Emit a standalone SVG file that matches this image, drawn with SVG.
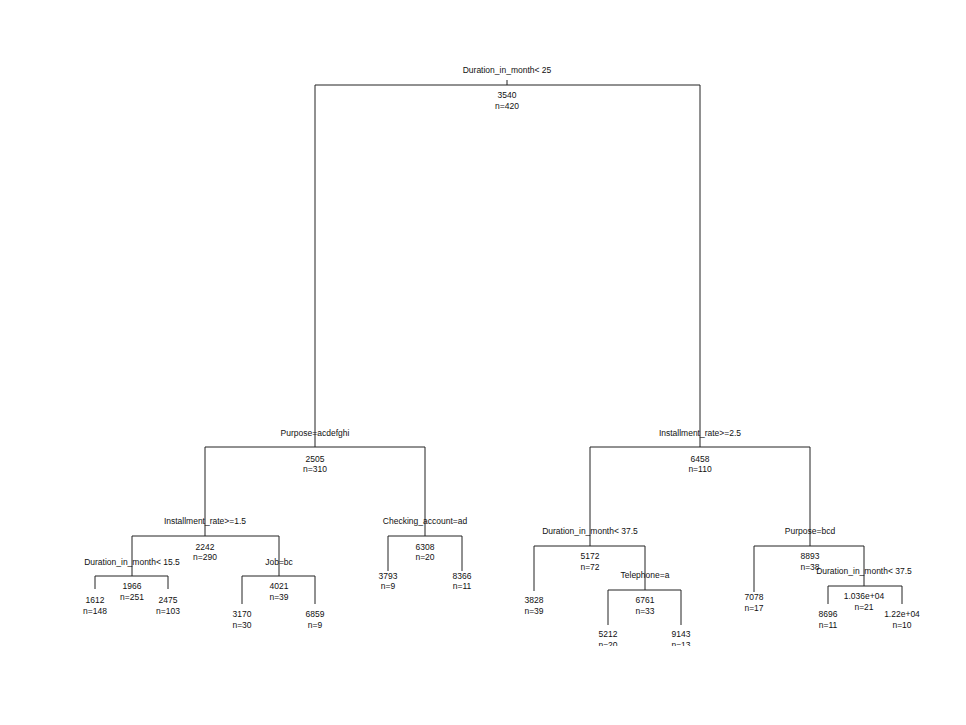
<svg xmlns="http://www.w3.org/2000/svg" width="966" height="725" viewBox="0 0 966 725">
<defs>
<style>
.e{fill:none;stroke:#222;stroke-width:1}
text{font-family:"Liberation Sans",Arial,sans-serif;font-size:8.5px;fill:#111;text-anchor:middle}
</style>
<clipPath id="plot"><rect x="0" y="0" width="966" height="646"/></clipPath>
</defs>
<rect width="966" height="725" fill="#fff"/>
<g clip-path="url(#plot)">
<g id="connectors" class="e">
<path d="M507,80V85M315,447V85H700V447"/>
<path d="M205,536V447H425V536"/>
<path d="M590,546V447H810V546"/>
<path d="M132,576V536H279V576"/>
<path d="M95,589V576H168V589"/>
<path d="M242,604V576H315V604"/>
<path d="M388,571V536H462V571"/>
<path d="M534,591V546H645V590"/>
<path d="M608,625V590H681V625"/>
<path d="M754,592V546H864V586"/>
<path d="M828,604V586H902V604"/>
</g>
<g id="n1"><text x="507" y="73">Duration_in_month&lt; 25</text><text x="507" y="98">3540</text><text x="507" y="109">n=420</text></g>
<g id="n2"><text x="315" y="436">Purpose=acdefghi</text><text x="315" y="462">2505</text><text x="315" y="472">n=310</text></g>
<g id="n3"><text x="700" y="436">Installment_rate&gt;=2.5</text><text x="700" y="462">6458</text><text x="700" y="472">n=110</text></g>
<g id="n4"><text x="205" y="524">Installment_rate&gt;=1.5</text><text x="205" y="550">2242</text><text x="205" y="560">n=290</text></g>
<g id="n5"><text x="425" y="524">Checking_account=ad</text><text x="425" y="550">6308</text><text x="425" y="560">n=20</text></g>
<g id="n8"><text x="132" y="565">Duration_in_month&lt; 15.5</text><text x="132" y="589">1966</text><text x="132" y="600">n=251</text></g>
<g id="n9"><text x="279" y="565">Job=bc</text><text x="279" y="589">4021</text><text x="279" y="600">n=39</text></g>
<g id="n16"><text x="95" y="603">1612</text><text x="95" y="614">n=148</text></g>
<g id="n17"><text x="168" y="603">2475</text><text x="168" y="614">n=103</text></g>
<g id="n18"><text x="242" y="617">3170</text><text x="242" y="628">n=30</text></g>
<g id="n19"><text x="315" y="617">6859</text><text x="315" y="628">n=9</text></g>
<g id="n10"><text x="388" y="579">3793</text><text x="388" y="589">n=9</text></g>
<g id="n11"><text x="462" y="579">8366</text><text x="462" y="589">n=11</text></g>
<g id="n6"><text x="590" y="534">Duration_in_month&lt; 37.5</text><text x="590" y="559">5172</text><text x="590" y="570">n=72</text></g>
<g id="n7"><text x="810" y="534">Purpose=bcd</text><text x="810" y="559">8893</text><text x="810" y="570">n=38</text></g>
<g id="n12"><text x="534" y="603">3828</text><text x="534" y="614">n=39</text></g>
<g id="n13"><text x="645" y="578">Telephone=a</text><text x="645" y="603">6761</text><text x="645" y="614">n=33</text></g>
<g id="n26"><text x="608" y="637">5212</text><text x="608" y="648">n=20</text></g>
<g id="n27"><text x="681" y="637">9143</text><text x="681" y="648">n=13</text></g>
<g id="n14"><text x="754" y="600">7078</text><text x="754" y="611">n=17</text></g>
<g id="n15"><text x="864" y="574">Duration_in_month&lt; 37.5</text><text x="864" y="599">1.036e+04</text><text x="864" y="610">n=21</text></g>
<g id="n30"><text x="828" y="617">8696</text><text x="828" y="628">n=11</text></g>
<g id="n31"><text x="902" y="617">1.22e+04</text><text x="902" y="628">n=10</text></g>
</g>
</svg>
